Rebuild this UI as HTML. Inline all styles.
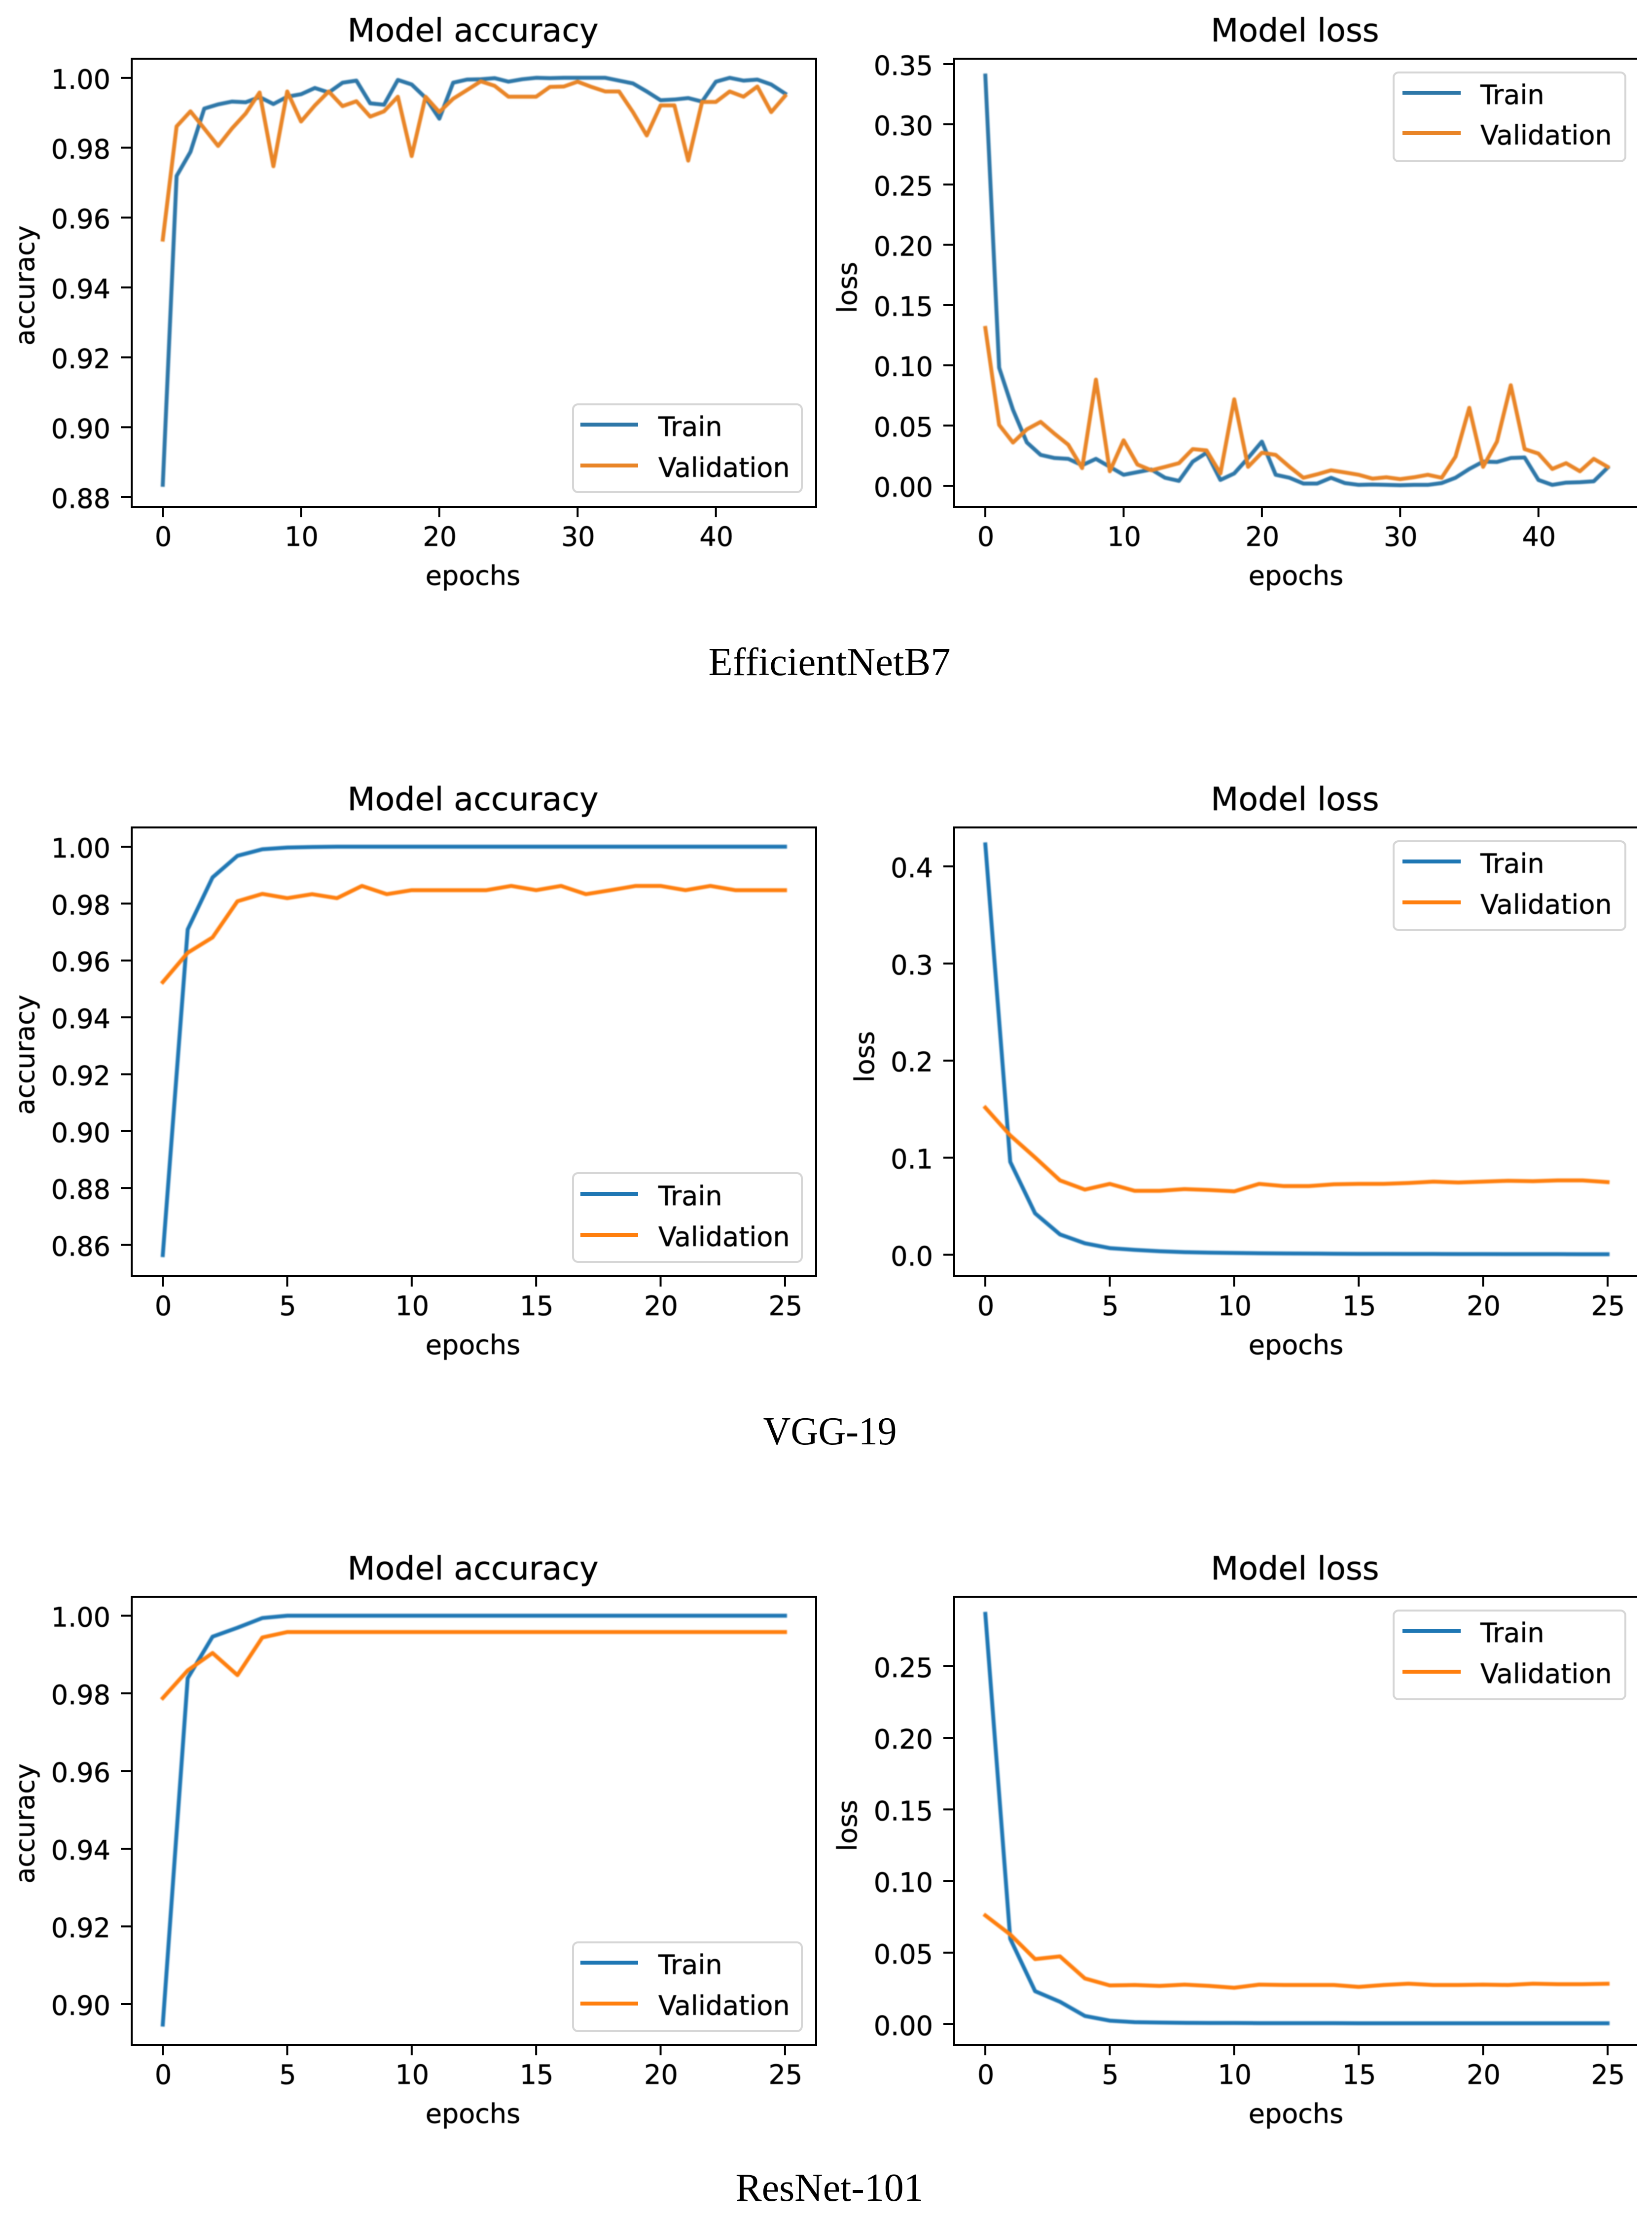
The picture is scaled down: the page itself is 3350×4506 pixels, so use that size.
<!DOCTYPE html>
<html lang="en">
<head>
<meta charset="utf-8">
<title>Model accuracy and loss curves</title>
<style>
html,body{margin:0;padding:0;background:#fff;}
svg{display:block;}
.t{font-family:"DejaVu Sans",sans-serif;font-size:54px;fill:#000;stroke:#000;stroke-width:.5px;filter:blur(.6px);}
.title{font-family:"DejaVu Sans",sans-serif;font-size:65px;fill:#000;stroke:#000;stroke-width:.5px;text-anchor:middle;filter:blur(.6px);}
.mid{text-anchor:middle;}
.cap{font-family:"Liberation Serif",serif;font-size:81px;fill:#000;text-anchor:middle;}
.legbox{fill:#fff;fill-opacity:.8;stroke:#d6d6d6;stroke-width:4;}
</style>
</head>
<body>
<svg id="figure" xmlns="http://www.w3.org/2000/svg" width="3350" height="4506" viewBox="0 0 3350 4506">
<rect x="0" y="0" width="3350" height="4506" fill="#fff"/>

<g id="p1">
  <text class="title" x="959" y="84">Model accuracy</text>
  <text class="t mid" x="959" y="1186">epochs</text>
  <text class="t mid" transform="translate(69 579) rotate(-90)">accuracy</text>
</g>
<g id="p2">
  <text class="title" x="2626" y="84">Model loss</text>
  <text class="t mid" x="2628" y="1186">epochs</text>
  <text class="t mid" transform="translate(1737 583) rotate(-90)">loss</text>
</g>
<text class="cap" x="1682" y="1369" textLength="491" lengthAdjust="spacingAndGlyphs">EfficientNetB7</text>

<g id="p3">
  <text class="title" x="959" y="1643">Model accuracy</text>
  <text class="t mid" x="959" y="2746">epochs</text>
  <text class="t mid" transform="translate(69 2139) rotate(-90)">accuracy</text>
</g>
<g id="p4">
  <text class="title" x="2626" y="1643">Model loss</text>
  <text class="t mid" x="2628" y="2746">epochs</text>
  <text class="t mid" transform="translate(1772 2143) rotate(-90)">loss</text>
</g>
<text class="cap" x="1683" y="2929" textLength="271" lengthAdjust="spacingAndGlyphs">VGG-19</text>

<g id="p5">
  <text class="title" x="959" y="3203">Model accuracy</text>
  <text class="t mid" x="959" y="4305">epochs</text>
  <text class="t mid" transform="translate(69 3698) rotate(-90)">accuracy</text>
</g>
<g id="p6">
  <text class="title" x="2626" y="3203">Model loss</text>
  <text class="t mid" x="2628" y="4305">epochs</text>
  <text class="t mid" transform="translate(1737 3702) rotate(-90)">loss</text>
</g>
<text class="cap" x="1682" y="4463" textLength="381" lengthAdjust="spacingAndGlyphs">ResNet-101</text>

<!-- legends -->
<g>
  <rect class="legbox" x="1162" y="820" width="464" height="178" rx="10"/>
  <line x1="1177" x2="1294" y1="861" y2="861" stroke="#2e77a8" stroke-width="8"/>
  <line x1="1177" x2="1294" y1="944" y2="944" stroke="#e98527" stroke-width="8"/>
  <text class="t" x="1335" y="884">Train</text>
  <text class="t" x="1335" y="967">Validation</text>
</g>
<g>
  <rect class="legbox" x="2826" y="147" width="470" height="180" rx="10"/>
  <line x1="2844" x2="2962" y1="188" y2="188" stroke="#2e77a8" stroke-width="8"/>
  <line x1="2844" x2="2962" y1="270" y2="270" stroke="#e98527" stroke-width="8"/>
  <text class="t" x="3002" y="211">Train</text>
  <text class="t" x="3002" y="293">Validation</text>
</g>
<g>
  <rect class="legbox" x="1162" y="2379" width="464" height="180" rx="10"/>
  <line x1="1177" x2="1294" y1="2421" y2="2421" stroke="#1f77b4" stroke-width="8"/>
  <line x1="1177" x2="1294" y1="2504" y2="2504" stroke="#ff7f0e" stroke-width="8"/>
  <text class="t" x="1335" y="2444">Train</text>
  <text class="t" x="1335" y="2527">Validation</text>
</g>
<g>
  <rect class="legbox" x="2826" y="1706" width="470" height="180" rx="10"/>
  <line x1="2844" x2="2962" y1="1747" y2="1747" stroke="#1f77b4" stroke-width="8"/>
  <line x1="2844" x2="2962" y1="1830" y2="1830" stroke="#ff7f0e" stroke-width="8"/>
  <text class="t" x="3002" y="1770">Train</text>
  <text class="t" x="3002" y="1853">Validation</text>
</g>
<g>
  <rect class="legbox" x="1162" y="3939" width="464" height="180" rx="10"/>
  <line x1="1177" x2="1294" y1="3980" y2="3980" stroke="#1f77b4" stroke-width="8"/>
  <line x1="1177" x2="1294" y1="4063" y2="4063" stroke="#ff7f0e" stroke-width="8"/>
  <text class="t" x="1335" y="4003">Train</text>
  <text class="t" x="1335" y="4086">Validation</text>
</g>
<g>
  <rect class="legbox" x="2826" y="3266" width="470" height="180" rx="10"/>
  <line x1="2844" x2="2962" y1="3307" y2="3307" stroke="#1f77b4" stroke-width="8"/>
  <line x1="2844" x2="2962" y1="3390" y2="3390" stroke="#ff7f0e" stroke-width="8"/>
  <text class="t" x="3002" y="3330">Train</text>
  <text class="t" x="3002" y="3413">Validation</text>
</g>
</svg>

<script>
// ---- chart data ----
const xTicks45 = [0, 10, 20, 30, 40];
const xTicks25 = [0, 5, 10, 15, 20, 25];

const effAccTicks = ["0.88", "0.90", "0.92", "0.94", "0.96", "0.98", "1.00"];
const effAccTrain = [0.8835,0.9719,0.9788,0.9912,0.9924,0.9932,0.993,0.9945,0.9925,0.9946,0.9953,0.9971,0.9958,0.9986,0.9992,0.9927,0.9923,0.9994,0.9981,0.9943,0.9883,0.9986,0.9995,0.9996,0.9999,0.9989,0.9996,1.0,0.9999,1.0,1.0,1.0,1.0,0.9992,0.9984,0.9961,0.9936,0.9938,0.9942,0.9932,0.9989,1.0,0.9992,0.9995,0.9981,0.9955];
const effAccVal = [0.9537,0.9861,0.9904,0.9855,0.9805,0.9855,0.9898,0.9958,0.9747,0.9961,0.9875,0.9921,0.9961,0.9919,0.9933,0.9889,0.9904,0.9946,0.9776,0.9946,0.9902,0.994,0.9965,0.999,0.9977,0.9946,0.9946,0.9946,0.9974,0.9975,0.9989,0.9974,0.9961,0.9961,0.9902,0.9835,0.9921,0.9921,0.9763,0.9931,0.9931,0.9961,0.9946,0.9975,0.9902,0.9948];

const effLossTicks = ["0.00", "0.05", "0.10", "0.15", "0.20", "0.25", "0.30", "0.35"];
const effLossTrain = [0.3405,0.098,0.063,0.036,0.0256,0.023,0.0223,0.017,0.0223,0.0157,0.0091,0.0113,0.0135,0.0066,0.004,0.02,0.0274,0.0048,0.0102,0.023,0.0366,0.0091,0.0066,0.0018,0.0018,0.0066,0.0022,0.0007,0.001,0.0007,0.0004,0.0007,0.0007,0.0022,0.0066,0.0139,0.02,0.0197,0.023,0.0234,0.0048,0.0007,0.0026,0.0029,0.0037,0.015];
const effLossVal = [0.131,0.0505,0.0358,0.0468,0.053,0.0432,0.034,0.0146,0.0881,0.012,0.0377,0.0176,0.0128,0.0157,0.0187,0.0304,0.0293,0.0102,0.0717,0.0157,0.0274,0.0256,0.0157,0.0066,0.0095,0.0128,0.011,0.0091,0.0059,0.007,0.0055,0.007,0.0091,0.0066,0.0241,0.0647,0.0157,0.0366,0.0834,0.0304,0.0267,0.0139,0.0187,0.012,0.0223,0.0157];

const vggAccTicks = ["0.86", "0.88", "0.90", "0.92", "0.94", "0.96", "0.98", "1.00"];
const vggAccTrain = [0.8564,0.9709,0.9892,0.9968,0.9991,0.9997,0.9999,1,1,1,1,1,1,1,1,1,1,1,1,1,1,1,1,1,1,1];
const vggAccVal = [0.9524,0.9627,0.9681,0.9808,0.9834,0.9819,0.9833,0.9819,0.9862,0.9833,0.9847,0.9847,0.9847,0.9847,0.9862,0.9847,0.9862,0.9833,0.9847,0.9862,0.9862,0.9847,0.9862,0.9847,0.9847,0.9847];

const vggLossTicks = ["0.0", "0.1", "0.2", "0.3", "0.4"];
const vggLossTrain = [0.4227,0.0957,0.0426,0.0209,0.0118,0.0068,0.005,0.0036,0.0027,0.0022,0.0018,0.0015,0.0013,0.0012,0.001,0.0009,0.0009,0.0008,0.0008,0.0007,0.0007,0.0006,0.0006,0.0006,0.0005,0.0005];
const vggLossVal = [0.1515,0.1229,0.1002,0.0766,0.0671,0.073,0.0658,0.0658,0.0676,0.0667,0.0653,0.073,0.0707,0.0707,0.0726,0.073,0.073,0.0739,0.0753,0.0744,0.0753,0.0762,0.0757,0.0766,0.0766,0.0748];

const resAccTicks = ["0.90", "0.92", "0.94", "0.96", "0.98", "1.00"];
const resAccTrain = [0.8947,0.9839,0.9946,0.9969,0.9994,1,1,1,1,1,1,1,1,1,1,1,1,1,1,1,1,1,1,1,1,1];
const resAccVal = [0.9788,0.9859,0.9904,0.9847,0.9944,0.9958,0.9958,0.9958,0.9958,0.9958,0.9958,0.9958,0.9958,0.9958,0.9958,0.9958,0.9958,0.9958,0.9958,0.9958,0.9958,0.9958,0.9958,0.9958,0.9958,0.9958];

const resLossTicks = ["0.00", "0.05", "0.10", "0.15", "0.20", "0.25"];
const resLossTrain = [0.2866,0.0597,0.0231,0.0157,0.0058,0.0025,0.0015,0.0012,0.001,0.0009,0.0009,0.0008,0.0008,0.0008,0.0008,0.0007,0.0007,0.0007,0.0007,0.0007,0.0007,0.0007,0.0007,0.0007,0.0007,0.0007];
const resLossVal = [0.076,0.0627,0.0455,0.0474,0.032,0.0271,0.0274,0.0268,0.0277,0.0268,0.0255,0.0277,0.0274,0.0274,0.0274,0.0261,0.0274,0.0283,0.0274,0.0274,0.0277,0.0274,0.0283,0.028,0.028,0.0283];

// ---- drawing ----
const NS = "http://www.w3.org/2000/svg";
const COL_LEFT = { left: 267, right: 1655, end: 1655, closed: true };
const COL_RIGHT = { left: 1935, right: 3323, end: 3318, closed: false };

function add(tag, parent) {
  const n = document.createElementNS(NS, tag);
  parent.appendChild(n);
  return n;
}
function setAll(n, attrs) {
  for (const k in attrs) n.setAttribute(k, attrs[k]);
}
function spine(g, x1, y1, x2, y2) {
  const s = add("line", g);
  
  
  setAll(s, { x1: x1, y1: y1, x2: x2, y2: y2, stroke: "#000", "stroke-width": 4, "stroke-linecap": "square" });
}
function drawPanel(id, col, top, bottom, xDomain, yDomain, xTicks, yTicks, train, val, blue, orange) {
  const g = document.getElementById(id);
  const x = v => col.left + (v - xDomain[0]) / (xDomain[1] - xDomain[0]) * (col.right - col.left);
  const y = v => bottom - (v - yDomain[0]) / (yDomain[1] - yDomain[0]) * (bottom - top);

  spine(g, col.left, top, col.end, top);
  spine(g, col.left, bottom, col.end, bottom);
  spine(g, col.left, top, col.left, bottom);
  if (col.closed) spine(g, col.right, top, col.right, bottom);

  xTicks.forEach(t => {
    const tick = add("line", g);
    
    
    setAll(tick, { x1: x(t), x2: x(t), y1: bottom, y2: bottom + 21, stroke: "#000", "stroke-width": 4 });
    const label = add("text", g);
    
    
    setAll(label, { class: "t mid", x: x(t) + 1, y: bottom + 79 });
    label.textContent = String(t);
  });

  yTicks.forEach(t => {
    const v = parseFloat(t);
    const tick = add("line", g);
    
    
    setAll(tick, { x1: col.left - 22, x2: col.left, y1: y(v), y2: y(v), stroke: "#000", "stroke-width": 4 });
    const label = add("text", g);
    
    
    setAll(label, { class: "t", x: col.left - 43, y: y(v) + 22, "text-anchor": "end" });
    label.textContent = t;
  });

  const lines = add("g", g);
  
  
  lines.style.filter = "blur(1.2px)";

  const trainLine = add("polyline", lines);
  
  
  setAll(trainLine, { points: train.map((v, i) => x(i).toFixed(1) + "," + y(v).toFixed(1)).join(" "), fill: "none", stroke: blue, "stroke-width": 8, "stroke-linejoin": "round", "stroke-linecap": "square" });

  const valLine = add("polyline", lines);
  
  
  setAll(valLine, { points: val.map((v, i) => x(i).toFixed(1) + "," + y(v).toFixed(1)).join(" "), fill: "none", stroke: orange, "stroke-width": 8, "stroke-linejoin": "round", "stroke-linecap": "square" });
}

const X45 = [-2.25, 47.25];
const X25 = [-1.25, 26.25];
drawPanel("p1", COL_LEFT, 119, 1028, X45, [0.87718, 1.00548], xTicks45, effAccTicks, effAccTrain, effAccVal, "#2e77a8", "#e98527");
drawPanel("p2", COL_RIGHT, 119, 1028, X45, [-0.0176, 0.3545], xTicks45, effLossTicks, effLossTrain, effLossVal, "#2e77a8", "#e98527");
drawPanel("p3", COL_LEFT, 1678, 2588, X25, [0.849, 1.00676], xTicks25, vggAccTicks, vggAccTrain, vggAccVal, "#1f77b4", "#ff7f0e");
drawPanel("p4", COL_RIGHT, 1678, 2588, X25, [-0.0221, 0.4401], xTicks25, vggLossTicks, vggLossTrain, vggLossVal, "#1f77b4", "#ff7f0e");
drawPanel("p5", COL_LEFT, 3238, 4147, X25, [0.88946, 1.00489], xTicks25, resAccTicks, resAccTrain, resAccVal, "#1f77b4", "#ff7f0e");
drawPanel("p6", COL_RIGHT, 3238, 4147, X25, [-0.01446, 0.29855], xTicks25, resLossTicks, resLossTrain, resLossVal, "#1f77b4", "#ff7f0e");
</script>
</body>
</html>
